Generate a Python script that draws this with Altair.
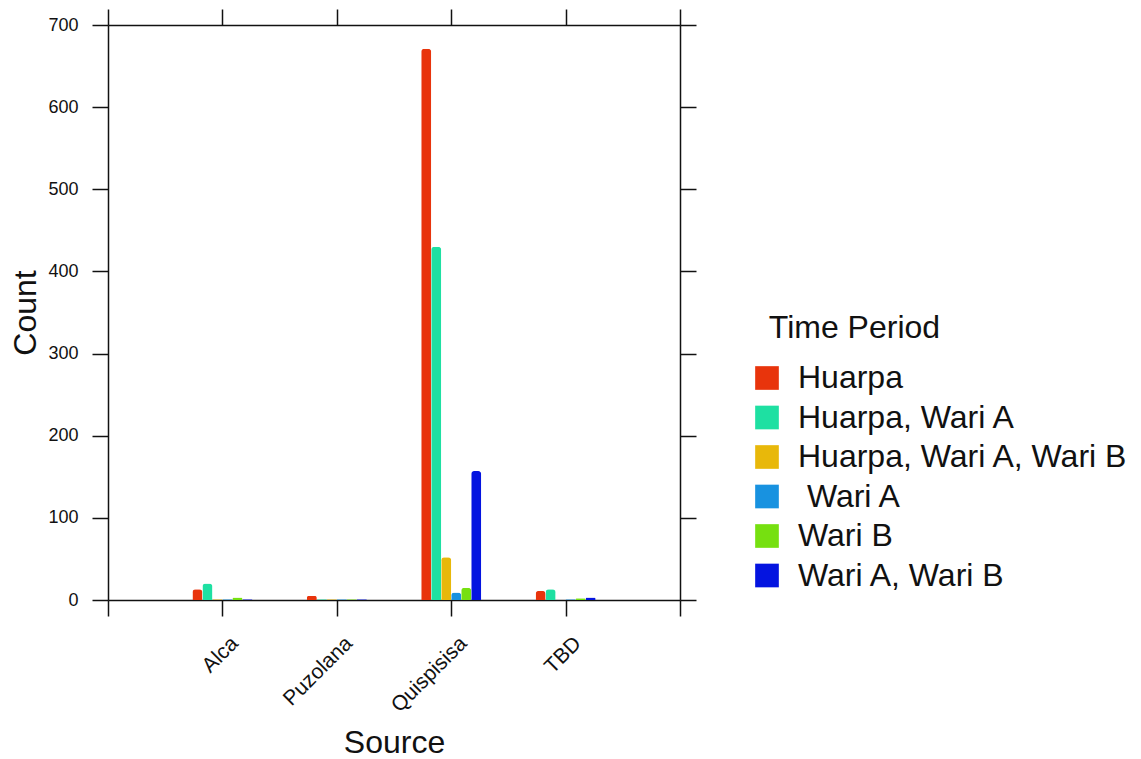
import json
import altair as alt
import pandas as pd

sources = ["Alca", "Puzolana", "Quispisisa", "TBD"]
periods = ["Huarpa", "Huarpa, Wari A", "Huarpa, Wari A, Wari B", "\u200b\u00a0Wari A", "Wari B", "Wari A, Wari B"]
period_colors = ["#e8340c", "#1ee0a2", "#e8b80a", "#1892e0", "#76e010", "#0414e0"]

counts_alca = [13, 20, 1, 1, 3, 1]
counts_puzolana = [5, 1, 1, 1, 1, 1]
counts_quispisisa = [671, 430, 52, 9, 15, 157]
counts_tbd = [11, 13, 0, 1, 2, 3]

y_ticks = [0, 100, 200, 300, 400, 500, 600, 700]

rows = []
for src, vals in zip(sources, [counts_alca, counts_puzolana, counts_quispisisa, counts_tbd]):
    for p, v in zip(periods, vals):
        rows.append({"Source": src, "Period": p, "Count": v})
df = pd.DataFrame(rows)

axis_df = pd.DataFrame({"pos": list(range(len(sources) + 2))})

FONT = "Liberation Sans"
INK = "#111111"
W, H = 572, 575

common = dict(grid=False, domainColor=INK, domainWidth=1.5, tickColor=INK,
              tickWidth=1.5, tickSize=16, labelColor=INK, titleColor=INK,
              labelFont=FONT, titleFont=FONT, ticks=True, domain=True)

bars = alt.Chart(df).mark_bar(cornerRadiusEnd=3).encode(
    x=alt.X("Source:N", sort=sources, axis=None,
            scale=alt.Scale(paddingInner=0.4755, paddingOuter=0.7378)),
    xOffset=alt.XOffset("Period:N", sort=periods,
                        scale=alt.Scale(paddingInner=0, paddingOuter=0)),
    y=alt.Y("Count:Q", scale=alt.Scale(domain=[0, 700], nice=False),
            axis=alt.Axis(orient="left", values=y_ticks, title="Count",
                          labelFontSize=18, labelPadding=14,
                          titleFontSize=32, titleFontWeight="normal",
                          titleX=-83, titleY=H / 2, titleAngle=270,
                          titleAlign="center", titleBaseline="middle", **common)),
    color=alt.Color("Period:N", sort=periods,
                    scale=alt.Scale(domain=periods, range=period_colors),
                    legend=alt.Legend(title="\u200b\u00a0\u00a0Time Period", orient="none",
                                      legendX=643, legendY=288,
                                      symbolType="square", symbolSize=560,
                                      symbolStrokeWidth=0,
                                      labelFontSize=32, titleFontSize=32,
                                      titleFontWeight="normal", titleLimit=500,
                                      labelOffset=15, rowPadding=7.5,
                                      titlePadding=17, padding=0,
                                      labelLimit=500, labelFont=FONT, titleFont=FONT,
                                      labelColor=INK, titleColor=INK)),
)

label_expr = (f"datum.value >= 1 && datum.value <= {len(sources)} ? "
              f"{json.dumps(sources)}[datum.value - 1] : ''")

bottom = alt.Chart(axis_df).mark_point(opacity=0).encode(
    x=alt.X("pos:Q", scale=alt.Scale(domain=[0, len(sources) + 1], nice=False, zero=False),
            axis=alt.Axis(orient="bottom", values=list(axis_df["pos"]), labelExpr=label_expr,
                          labelAngle=-45, labelAlign="right", labelBaseline="middle",
                          labelFontSize=21, labelPadding=24, labelOffset=12,
                          title="Source", titleFontSize=32, titleFontWeight="normal",
                          titleX=W / 2, titleY=142, titleAlign="center",
                          titleBaseline="middle", **common))
)

top = alt.Chart(axis_df).mark_point(opacity=0).encode(
    x=alt.X("pos:Q", scale=alt.Scale(domain=[0, len(sources) + 1], nice=False, zero=False),
            axis=alt.Axis(orient="top", values=list(axis_df["pos"]), labels=False, title=None,
                          **common))
)

right = alt.Chart(df).mark_point(opacity=0).encode(
    y=alt.Y("Count:Q", axis=alt.Axis(orient="right", values=y_ticks, labels=False, title=None,
                                     **common))
)

chart = alt.layer(bars, bottom, top, right).resolve_scale(
    x="independent"
).resolve_axis(
    x="independent", y="independent"
).properties(
    width=W, height=H,
    autosize=alt.AutoSizeParams(type="none"),
    padding={"left": 108, "top": 25, "right": 1141 - 108 - W, "bottom": 759 - 25 - H},
).configure_view(
    stroke=INK, strokeWidth=1.5
).configure(background="white")

chart.save("out.html", embed_options={"renderer": "svg", "actions": False})
